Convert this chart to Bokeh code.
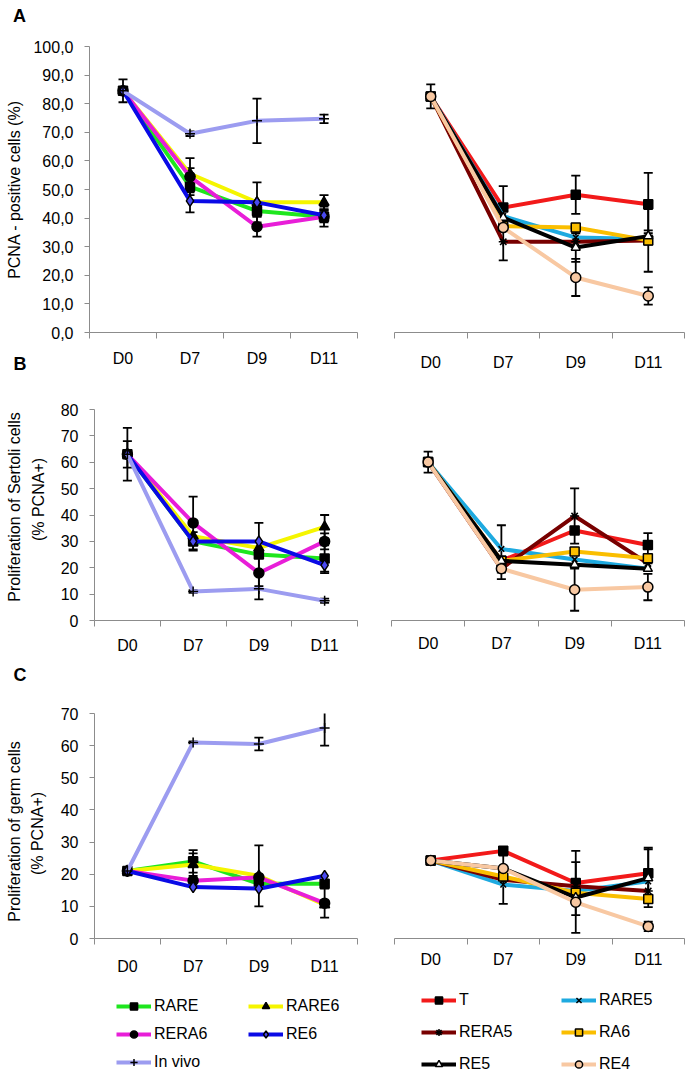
from math import pi
from bokeh.plotting import figure
from bokeh.models import (FixedTicker, Legend, LegendItem, Whisker, TeeHead,
                          ColumnDataSource, Range1d)
from bokeh.core.properties import value
from bokeh.layouts import column, row
from bokeh.embed import file_html
from bokeh.resources import INLINE

# ---------------- data ----------------
days = ["D0", "D7", "D9", "D11"]
left_series = ["RARE", "RARE6", "RERA6", "RE6", "In vivo"]
right_series = ["T", "RARE5", "RERA5", "RA6", "RE5", "RE4"]

# Panel A : PCNA-positive cells (%)
a_rare = [84.5, 51.0, 42.5, 40.5]
a_rare6 = [84.5, 55.5, 45.5, 45.5]
a_rera6 = [84.5, 54.5, 37.0, 40.5]
a_re6 = [84.5, 46.0, 45.5, 41.0]
a_invivo = [84.5, 69.5, 74.0, 74.7]
a_rare_err = [4.0, 2.0, 2.0, 3.5]
a_rare6_err = [0, 2.0, 0, 2.5]
a_rera6_err = [0, 6.5, 3.5, 2.0]
a_re6_err = [0, 4.0, 7.0, 2.0]
a_invivo_err = [0, 0.8, 7.8, 1.5]

a_t = [82.5, 43.5, 48.0, 44.7]
a_rare5 = [82.5, 40.5, 33.0, 32.5]
a_rera5 = [82.5, 31.5, 31.5, 32.0]
a_ra6 = [82.5, 37.0, 36.5, 32.0]
a_re5 = [82.5, 40.0, 29.5, 33.5]
a_re4 = [82.5, 36.5, 19.0, 12.5]
a_t_err = [4.2, 7.5, 6.7, 11.0]
a_rare5_err = [0, 0, 3.0, 2.0]
a_rera5_err = [0, 6.5, 0, 0]
a_ra6_err = [0, 0, 0, 11.0]
a_re5_err = [0, 0, 5.0, 2.0]
a_re4_err = [0, 0, 6.5, 3.0]

# Panel B : proliferation of Sertoli cells (% PCNA+)
b_rare = [63.0, 30.0, 25.0, 23.5]
b_rare6 = [63.0, 32.0, 27.5, 35.5]
b_rera6 = [63.0, 37.0, 18.0, 30.0]
b_re6 = [63.0, 30.0, 30.0, 21.0]
b_invivo = [63.0, 11.0, 12.0, 7.5]
b_rare_err = [5.0, 3.5, 12.0, 5.0]
b_rare6_err = [0, 0, 0, 4.5]
b_rera6_err = [0, 10.0, 10.0, 3.0]
b_re6_err = [0, 0, 0, 3.0]
b_invivo_err = [10.0, 0.5, 0, 0.8]

b_t = [60.0, 22.5, 34.0, 28.5]
b_rare5 = [60.0, 27.0, 23.0, 19.5]
b_rera5 = [60.0, 19.5, 39.5, 21.5]
b_ra6 = [60.0, 22.5, 26.0, 23.5]
b_re5 = [60.0, 22.5, 21.0, 19.5]
b_re4 = [60.0, 19.5, 11.5, 12.5]
b_t_err = [4.0, 0, 0, 4.5]
b_rare5_err = [0, 9.0, 0, 0]
b_rera5_err = [0, 0, 10.5, 0]
b_ra6_err = [0, 0, 0, 0]
b_re5_err = [0, 0, 0, 0]
b_re4_err = [0, 4.0, 8.0, 5.0]

# Panel C : proliferation of germ cells (% PCNA+)
c_rare = [21.0, 24.0, 17.0, 17.0]
c_rare6 = [21.0, 23.0, 19.5, 10.5]
c_rera6 = [21.0, 18.0, 19.0, 11.0]
c_re6 = [21.0, 16.0, 15.5, 19.5]
c_invivo = [21.0, 61.0, 60.5, 65.5]
c_rare_err = [0, 3.5, 0, 0]
c_rare6_err = [0, 3.5, 9.5, 0]
c_rera6_err = [0, 0, 0, 4.5]
c_re6_err = [0, 0, 0, 0]
c_invivo_err = [0, 0.3, 2.0, 5.5]

c_t = [24.0, 27.0, 17.0, 20.0]
c_rare5 = [24.0, 16.5, 14.5, 17.5]
c_rera5 = [24.0, 18.0, 16.0, 14.5]
c_ra6 = [24.0, 19.0, 14.0, 12.0]
c_re5 = [24.0, 21.5, 12.5, 18.5]
c_re4 = [24.0, 21.5, 11.0, 3.5]
c_t_err = [0, 0, 10.0, 8.0]
c_rare5_err = [0, 0, 0, 0]
c_rera5_err = [0, 7.5, 0, 0]
c_ra6_err = [0, 0, 0, 0]
c_re5_err = [0, 0, 11.0, 9.0]
c_re4_err = [0, 0, 0, 1.5]

a_ticks = [0, 10, 20, 30, 40, 50, 60, 70, 80, 90, 100]
b_ticks = [0, 10, 20, 30, 40, 50, 60, 70, 80]
c_ticks = [0, 10, 20, 30, 40, 50, 60, 70]

panel_letters = ["A", "B", "C"]
a_title = ["PCNA - positive cells (%)"]
b_title = ["Proliferation of Sertoli cells", "(% PCNA+)"]
c_title = ["Proliferation of germ cells", "(% PCNA+)"]

# ---------------- style ----------------
FONT = "Liberation Sans"
AXIS = "#8c8c8c"
STYLE = {
    "RARE": dict(color="#1EE61E", marker="square", fill="black", size=9),
    "RARE6": dict(color="#F5F500", marker="triangle", fill="black", size=10),
    "RERA6": dict(color="#E81ED8", marker="circle", fill="black", size=10),
    "RE6": dict(color="#0A0AE6", marker="diamond", fill="#4A4AF0", size=11),
    "In vivo": dict(color="#9C9CF0", marker="cross", fill="black", size=10),
    "T": dict(color="#F21A1A", marker="square", fill="black", size=9),
    "RARE5": dict(color="#1EAAE0", marker="x", fill="black", size=8),
    "RERA5": dict(color="#780000", marker="asterisk", fill="black", size=9),
    "RA6": dict(color="#FABE00", marker="square", fill="#FABE00", size=9),
    "RE5": dict(color="#000000", marker="triangle", fill="white", size=9),
    "RE4": dict(color="#F8C8A2", marker="circle", fill="#F8C8A2", size=10),
}


def panel(width, height, borders, y_range, names, vals, errs, yticks=None,
          fmt=None, x_standoff=13):
    left, right, top, bottom = borders
    p = figure(width=width, height=height, x_range=Range1d(0.5, len(days) + 0.5),
               y_range=Range1d(*y_range), output_backend="svg", toolbar_location=None,
               min_border_left=left, min_border_right=right, min_border_top=top,
               min_border_bottom=bottom)
    p.outline_line_color = None
    p.xgrid.visible = False
    p.ygrid.visible = False
    xs = [i + 1 for i in range(len(days))]
    ax = p.xaxis[0]
    ax.ticker = FixedTicker(ticks=xs, minor_ticks=[x - 0.5 for x in xs] + [xs[-1] + 0.5])
    ax.major_label_overrides = {x: d for x, d in zip(xs, days)}
    ax.major_tick_line_color = None
    ax.major_tick_out = 0
    ax.major_tick_in = 0
    ax.minor_tick_line_color = AXIS
    ax.minor_tick_out = 6
    ax.minor_tick_in = 0
    ax.axis_line_color = AXIS
    ax.major_label_text_font = FONT
    ax.major_label_text_font_size = "16px"
    ax.major_label_text_color = "black"
    ax.major_label_standoff = x_standoff
    ay = p.yaxis[0]
    if yticks is None:
        ay.visible = False
    else:
        ay.ticker = FixedTicker(ticks=yticks, minor_ticks=[])
        ay.major_label_overrides = {t: fmt(t) for t in yticks}
        ay.axis_line_color = AXIS
        ay.major_tick_line_color = AXIS
        ay.major_tick_out = 5
        ay.major_tick_in = 0
        ay.minor_tick_line_color = None
        ay.major_label_text_font = FONT
        ay.major_label_text_font_size = "16px"
        ay.major_label_text_color = "black"
        ay.major_label_standoff = 11
    bx, bu, bl = [], [], []
    for name in names:
        st = STYLE[name]
        ys = vals[name]
        p.line(xs, ys, line_color=st["color"], line_width=4)
        p.scatter(xs, ys, marker=st["marker"], size=st["size"],
                  fill_color=st["fill"], line_color="black", line_width=1.5)
        for x, y, e in zip(xs, ys, errs[name]):
            if e > 0:
                bx.append(x)
                bu.append(y + e)
                bl.append(y - e)
    src = ColumnDataSource(dict(x=bx, upper=bu, lower=bl))
    p.add_layout(Whisker(source=src, base="x", upper="upper", lower="lower",
                         line_color="black", line_width=1.8,
                         upper_head=TeeHead(size=9, line_color="black", line_width=1.8),
                         lower_head=TeeHead(size=9, line_color="black", line_width=1.8)))
    return p


def strip(width, height, top, bottom, texts):
    """Text strip; its data coordinates are its own canvas pixels (y downwards)."""
    p = figure(width=width, height=height, x_range=Range1d(0, width),
               y_range=Range1d(height - bottom, top), output_backend="svg",
               toolbar_location=None, x_axis_location=None, y_axis_location=None,
               min_border_left=0, min_border_right=0, min_border_top=top,
               min_border_bottom=bottom)
    p.outline_line_color = None
    p.xgrid.visible = False
    p.ygrid.visible = False
    for txt, x, y, size, bold, ang in texts:
        p.text(x=[x], y=[y], text=[txt], angle=ang, text_font=value(FONT),
               text_font_size=size, text_font_style="bold" if bold else "normal",
               text_align="center", text_baseline="middle", text_color="black")
    return p


def legend_fig(width, height, names, vals, left, top, margin, spacing, label_width):
    p = figure(width=width, height=height, x_range=Range1d(10, 11), y_range=Range1d(0, 1),
               output_backend="svg", toolbar_location=None, x_axis_location=None,
               y_axis_location=None, min_border_left=left, min_border_top=top,
               min_border_right=0, min_border_bottom=0)
    p.outline_line_color = None
    p.xgrid.visible = False
    p.ygrid.visible = False
    items = []
    for name in names:
        st = STYLE[name]
        # swatch renderers (their single point lies outside this legend strip's view)
        lr = p.line(x=[1], y=vals[name][:1], line_color=st["color"], line_width=4)
        sr = p.scatter(x=[1], y=vals[name][:1], marker=st["marker"], size=st["size"],
                       fill_color=st["fill"], line_color="black", line_width=1.5)
        items.append(LegendItem(label=name, renderers=[lr, sr]))
    lg = Legend(items=items, location="top_left", orientation="horizontal", ncols=2,
                glyph_width=35, glyph_height=18, label_height=18,
                label_width=label_width, label_standoff=3, spacing=spacing,
                padding=0, margin=margin, border_line_color=None,
                background_fill_alpha=0, label_text_font=FONT,
                label_text_font_size="16px", label_text_color="black")
    p.add_layout(lg)
    return p


def comma(t):
    return f"{t:.1f}".replace(".", ",")


def plain(t):
    return f"{t}"


a_vals_l = dict(zip(left_series, [a_rare, a_rare6, a_rera6, a_re6, a_invivo]))
a_errs_l = dict(zip(left_series, [a_rare_err, a_rare6_err, a_rera6_err, a_re6_err, a_invivo_err]))
a_vals_r = dict(zip(right_series, [a_t, a_rare5, a_rera5, a_ra6, a_re5, a_re4]))
a_errs_r = dict(zip(right_series, [a_t_err, a_rare5_err, a_rera5_err, a_ra6_err, a_re5_err, a_re4_err]))
b_vals_l = dict(zip(left_series, [b_rare, b_rare6, b_rera6, b_re6, b_invivo]))
b_errs_l = dict(zip(left_series, [b_rare_err, b_rare6_err, b_rera6_err, b_re6_err, b_invivo_err]))
b_vals_r = dict(zip(right_series, [b_t, b_rare5, b_rera5, b_ra6, b_re5, b_re4]))
b_errs_r = dict(zip(right_series, [b_t_err, b_rare5_err, b_rera5_err, b_ra6_err, b_re5_err, b_re4_err]))
c_vals_l = dict(zip(left_series, [c_rare, c_rare6, c_rera6, c_re6, c_invivo]))
c_errs_l = dict(zip(left_series, [c_rare_err, c_rare6_err, c_rera6_err, c_re6_err, c_invivo_err]))
c_vals_r = dict(zip(right_series, [c_t, c_rare5, c_rera5, c_ra6, c_re5, c_re4]))
c_errs_r = dict(zip(right_series, [c_t_err, c_rare5_err, c_rera5_err, c_ra6_err, c_re5_err, c_re4_err]))

RW = 311
LET = "18px"
TXT = "16px"

# Full-height left strip: panel letters and first lines of the y titles
s_full = strip(27, 1075, 0, 0, [
    (panel_letters[0], 19, 15.5, LET, True, 0.0),
    (panel_letters[1], 19.5, 363.5, LET, True, 0.0),
    (panel_letters[2], 19.5, 674.5, LET, True, 0.0),
    (a_title[0], 14, 189, TXT, False, pi / 2),
    (b_title[0], 14, 506.5, TXT, False, pi / 2),
    (c_title[0], 14, 831, TXT, False, pi / 2),
])

# Row A  (frames share top/bottom borders 46 / 43)
pa_l = panel(347, 375, (62, 17, 46, 43), (0, 100), left_series, a_vals_l, a_errs_l,
             yticks=a_ticks, fmt=comma, x_standoff=11)
pa_r = panel(RW, 375, (20, 1, 46, 43), (-0.3, 100), right_series, a_vals_r, a_errs_r,
             x_standoff=15)

# Row B  (borders 34 / 39)
sb = strip(22, 284, 34, 39, [(b_title[1], 10.5, 124, TXT, False, pi / 2)])
pb_l = panel(325, 284, (45, 17, 34, 39), (0, 80), left_series, b_vals_l, b_errs_l,
             yticks=b_ticks, fmt=plain, x_standoff=10)
pb_r = panel(RW, 284, (17, 1, 34, 39), (-0.2, 80), right_series, b_vals_r, b_errs_r,
             x_standoff=8)

# Row C  (borders 54 / 43)
sc = strip(22, 322, 54, 43, [(c_title[1], 10, 174, TXT, False, pi / 2)])
pc_l = panel(325, 322, (45, 17, 54, 43), (0, 70), left_series, c_vals_l, c_errs_l,
             yticks=c_ticks, fmt=plain, x_standoff=13)
pc_r = panel(RW, 322, (20, 1, 54, 43), (-0.27, 69.74), right_series, c_vals_r, c_errs_r,
             x_standoff=6)

# Legend row
lg_l = legend_fig(347, 94, left_series, c_vals_l, 83, 10, 6, 10, 84)
lg_r = legend_fig(RW, 94, right_series, c_vals_r, 47, 10, 0, 14, 88)

body = column(row(pa_l, pa_r), row(sb, pb_l, pb_r), row(sc, pc_l, pc_r),
              row(lg_l, lg_r))
layout = row(s_full, body)
open("out.html", "w").write(file_html(layout, INLINE))
